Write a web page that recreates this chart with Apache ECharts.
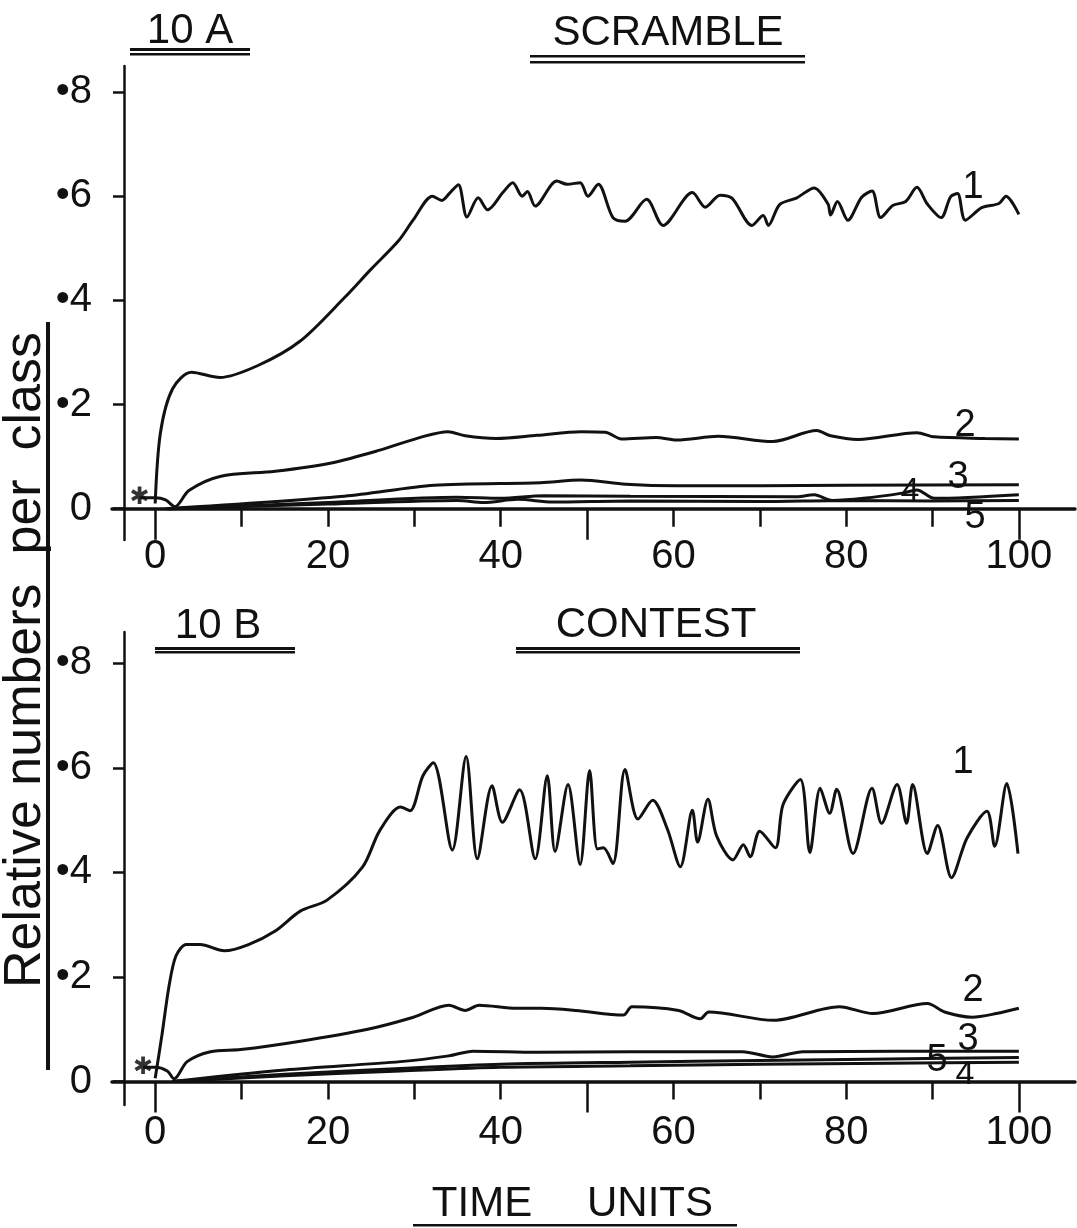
<!DOCTYPE html>
<html>
<head>
<meta charset="utf-8">
<script src="https://cdn.jsdelivr.net/npm/echarts@6/dist/echarts.min.js"></script>
<style>
  html, body { margin: 0; padding: 0; background: #fff; }
  #chart { width: 1077px; height: 1228px; }
</style>
</head>
<body>
<div id="chart"></div>
<script>
// tick values / labels
const xLabelValues = [0, 20, 40, 60, 80, 100];
const xLongTicks = [0, 50, 100];
const xShortTicks = [10, 20, 30, 40, 60, 70, 80, 90];
const yTickValues = [0, 0.2, 0.4, 0.6, 0.8];
const yTickLabels = ['0', '•2', '•4', '•6', '•8'];

// 10 A  SCRAMBLE  (time, relative number)
const scramble1 = [[0,0.01],[0.6,0.145],[2.0,0.23],[4.2,0.262],[7.5,0.252],[11.9,0.275],[16.8,0.322],[21.9,0.405],[25,0.46],[28.2,0.515],[29.9,0.555],[32.1,0.6],[33.2,0.592],[34.1,0.606],[35.1,0.622],[36.1,0.56],[37.4,0.597],[38.5,0.574],[40.3,0.608],[41.4,0.626],[42.5,0.6],[43.1,0.609],[44,0.581],[46.5,0.629],[47.7,0.623],[49.2,0.626],[50.1,0.6],[51.3,0.623],[53,0.559],[54.4,0.552],[56.9,0.594],[58.8,0.544],[62.2,0.607],[63.7,0.579],[65.4,0.602],[66.8,0.596],[69.1,0.544],[70.4,0.563],[71,0.544],[72.3,0.584],[74.3,0.597],[76.3,0.616],[77.9,0.585],[78.2,0.564],[79,0.59],[80.2,0.554],[81.8,0.598],[83,0.61],[84,0.559],[85.4,0.582],[86.9,0.59],[88.2,0.617],[89.4,0.585],[91,0.559],[92.1,0.599],[92.9,0.605],[93.8,0.554],[95.7,0.578],[97.7,0.586],[98.5,0.6],[100,0.565]];
const scramble2 = [[-1.8,0.021],[0,0.021],[1.2,0.017],[2.3,0.004],[3.9,0.035],[7.5,0.062],[13.9,0.072],[20.4,0.088],[25.9,0.112],[31.1,0.139],[33.9,0.148],[35.9,0.14],[39.5,0.135],[44.2,0.141],[49.3,0.148],[52.1,0.147],[54,0.134],[58,0.137],[60.4,0.132],[65.2,0.139],[71.5,0.129],[76.6,0.15],[78.2,0.14],[81.4,0.133],[88.2,0.146],[90.2,0.138],[96.1,0.135],[100,0.134]];
const scramble3 = [[1.2,0],[21.9,0.024],[32.3,0.045],[44.6,0.05],[49.3,0.055],[54.5,0.047],[60.4,0.044],[80,0.045],[100,0.046]];
const scramble4 = [[1.5,0],[20,0.012],[35,0.022],[40,0.02],[45,0.025],[55,0.024],[74.3,0.023],[76.3,0.027],[78.4,0.016],[82,0.02],[86.5,0.03],[88.2,0.036],[90.2,0.02],[100,0.027]];
const scramble5 = [[1.5,0],[20,0.009],[35,0.016],[38,0.012],[42,0.018],[46,0.013],[55,0.015],[70,0.014],[80,0.016],[90,0.015],[100,0.016]];
const scrambleStart = [[-1.8,0.021]];

// 10 B  CONTEST
const contest1 = [[0,0.006],[0.8,0.091],[1.6,0.182],[2.4,0.24],[3.6,0.262],[5.2,0.262],[8,0.25],[10.8,0.262],[13.9,0.288],[16.8,0.326],[19.9,0.347],[24,0.41],[26,0.48],[28.4,0.525],[29.5,0.518],[31,0.585],[32.2,0.61],[34.4,0.443],[36,0.622],[37.3,0.426],[39,0.566],[40.2,0.496],[42.2,0.558],[44,0.426],[45.4,0.585],[46.3,0.44],[47.8,0.568],[49.2,0.415],[50.3,0.595],[51.2,0.445],[51.9,0.447],[53,0.417],[54.4,0.597],[55.9,0.502],[57.6,0.538],[59.3,0.483],[60.8,0.411],[62.2,0.519],[62.8,0.458],[64,0.54],[65,0.47],[66.9,0.424],[68.1,0.453],[68.9,0.43],[70,0.479],[71.8,0.447],[72.7,0.53],[74.7,0.578],[75.8,0.438],[77,0.561],[78.1,0.513],[78.9,0.559],[80.8,0.436],[83,0.561],[84.1,0.494],[85.9,0.568],[87,0.494],[87.7,0.568],[89.4,0.436],[90.6,0.49],[92.2,0.39],[94,0.466],[96.3,0.517],[97.2,0.45],[98.6,0.57],[99.9,0.436]];
const contest2 = [[-1.4,0.027],[0,0.027],[1.4,0.02],[2.2,0.005],[3.7,0.038],[6.4,0.057],[9.9,0.061],[16.8,0.077],[24.6,0.1],[29.9,0.123],[34,0.146],[35.9,0.136],[37.5,0.146],[41.9,0.14],[44.7,0.14],[48.7,0.136],[54.2,0.127],[55.2,0.143],[60.6,0.136],[63.1,0.12],[64.1,0.133],[71.6,0.117],[79.2,0.143],[83.1,0.13],[89.4,0.149],[91.4,0.133],[94.6,0.123],[97.4,0.13],[100,0.14]];
const contest3 = [[2,0],[15,0.022],[28.4,0.038],[34,0.049],[36.8,0.058],[44.3,0.056],[55,0.057],[68,0.057],[71.5,0.047],[75,0.057],[100,0.058]];
const contest4 = [[2,0],[15,0.011],[28.4,0.02],[40,0.027],[55,0.03],[70,0.033],[85,0.035],[100,0.037]];
const contest5 = [[2,0],[15,0.014],[28.4,0.025],[40,0.033],[55,0.037],[70,0.04],[85,0.043],[100,0.046]];
const contestStart = [[-1.4,0.027]];

const INK = '#111';
const FONT = "'Liberation Sans', Arial, sans-serif";

function xAxes(gridIndex, zeroY, labelMargin) {
  const base = { type: 'value', gridIndex: gridIndex, position: 'bottom', min: -5, max: 106.5, splitLine: { show: false } };
  return [
    Object.assign({}, base, {
      axisLine: { show: true, onZero: true, onZeroAxisIndex: zeroY, lineStyle: { color: INK, width: 3.5 } },
      axisTick: { show: true, customValues: xLongTicks, length: 31, lineStyle: { color: INK, width: 2.5 } },
      axisLabel: { show: false }
    }),
    Object.assign({}, base, {
      axisLine: { show: false, onZero: true, onZeroAxisIndex: zeroY },
      axisTick: { show: true, customValues: xShortTicks, length: 18, lineStyle: { color: INK, width: 2.5 } },
      axisLabel: { show: true, customValues: xLabelValues, margin: labelMargin, color: INK, fontSize: 40, fontFamily: FONT }
    })
  ];
}

function yAxis(gridIndex, min, max) {
  return {
    type: 'value', gridIndex: gridIndex, position: 'left', min: min, max: max, offset: -12,
    splitLine: { show: false },
    axisLine: { show: true, onZero: false, lineStyle: { color: INK, width: 2.5 } },
    axisTick: { show: true, customValues: yTickValues, length: 11, lineStyle: { color: INK, width: 2.5 } },
    axisLabel: {
      show: true, customValues: yTickValues, margin: 32, color: INK, fontSize: 40, fontFamily: FONT,
      formatter: (v) => yTickLabels[yTickValues.findIndex(t => Math.abs(t - v) < 1e-6)] || ''
    }
  };
}

function curve(data, xi, yi) {
  return {
    type: 'line', data: data, xAxisIndex: xi, yAxisIndex: yi,
    showSymbol: false, symbol: 'none', smooth: 0.3, silent: true,
    lineStyle: { color: INK, width: 3 }
  };
}

function star(data, xi, yi) {
  return {
    type: 'scatter', data: data, xAxisIndex: xi, yAxisIndex: yi, symbolSize: 2,
    itemStyle: { color: 'rgba(0,0,0,0)' }, silent: true,
    label: { show: true, position: 'inside', formatter: '✱', fontSize: 24, fontWeight: 'bold', color: '#000', fontFamily: 'DejaVu Sans' }
  };
}

function txt(text, x, y, size) {
  return { type: 'text', x: x, y: y, style: { text: text, fontSize: size, fontFamily: FONT, fill: INK, align: 'center', verticalAlign: 'middle' } };
}
function bar(x, y, w, h) {
  return { type: 'rect', shape: { x: x, y: y, width: w, height: h }, style: { fill: INK } };
}

const chart = echarts.init(document.getElementById('chart'), null, { renderer: 'canvas' });
chart.setOption({
  backgroundColor: '#fff',
  animation: false,
  grid: [
    { left: 112, width: 963, top: 66, height: 474 },
    { left: 112, width: 963, top: 632, height: 473 }
  ],
  xAxis: xAxes(0, 0, -3).concat(xAxes(1, 1, 8)),
  yAxis: [yAxis(0, -0.06, 0.85), yAxis(1, -0.045, 0.86)],
  series: [
    curve(scramble1, 0, 0), curve(scramble2, 0, 0), curve(scramble3, 0, 0),
    curve(scramble4, 0, 0), curve(scramble5, 0, 0), star(scrambleStart, 0, 0),
    curve(contest1, 2, 1), curve(contest2, 2, 1), curve(contest3, 2, 1),
    curve(contest4, 2, 1), curve(contest5, 2, 1), star(contestStart, 2, 1)
  ],
  graphic: [
    // panel titles
    txt('10 A', 190, 31, 42), bar(130, 48, 120, 3), bar(130, 53, 120, 2.5),
    txt('SCRAMBLE', 668, 33, 42), bar(530, 55, 275, 2.5), bar(530, 61, 275, 2.5),
    txt('10 B', 218, 626, 42), bar(155, 647, 140, 3), bar(155, 651, 140, 2.5),
    txt('CONTEST', 656, 625, 42), bar(516, 647, 284, 3), bar(516, 651, 284, 2.5),
    // x title
    txt('TIME', 482, 1204, 42), txt('UNITS', 650, 1204, 42), bar(413, 1224, 324, 2.5),
    // y title
    { type: 'text', x: 26, y: 660, rotation: Math.PI / 2,
      style: { text: 'Relative numbers  per  class', fontSize: 52, fontFamily: FONT, fill: INK, align: 'center', verticalAlign: 'middle' } },
    bar(46, 322, 4, 748),
    // curve numbers
    txt('1', 973, 188, 38), txt('2', 965, 426, 38), txt('3', 958, 478, 38), txt('4', 910, 492, 34), txt('5', 975, 518, 38),
    txt('1', 963, 763, 38), txt('2', 973, 991, 38), txt('3', 968, 1040, 38), txt('5', 937, 1061, 38), txt('4', 965, 1075, 34)
  ]
});
</script>
</body>
</html>
